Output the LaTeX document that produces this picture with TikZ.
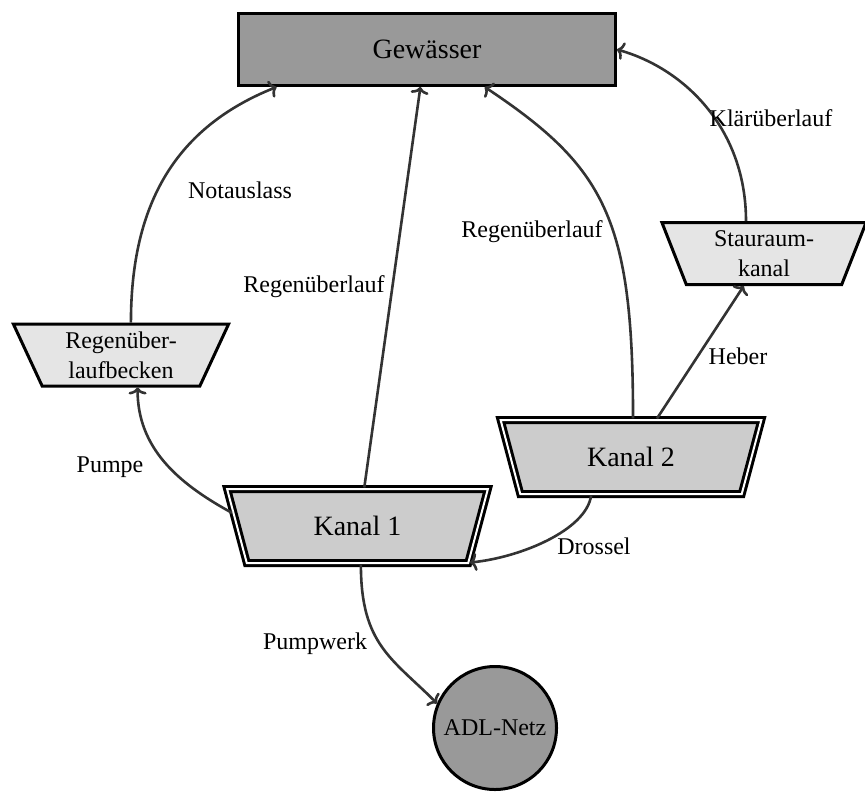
\documentclass[tikz,border=0pt]{standalone}
\usepackage{fontspec}
\setmainfont{Liberation Serif}
\usetikzlibrary{shapes.geometric,arrows.meta}
\begin{document}
\begin{tikzpicture}[x=0.5pt,y=-0.5pt,
  lbl/.style={font=\fontsize{12}{14}\selectfont, inner sep=0pt},
  conn/.style={draw=black!80, line width=1.3pt, -{To[length=3.5pt,width=9pt]}},
  bigbox/.style={trapezium, trapezium stretches=true, shape border rotate=180,
    trapezium angle=71, minimum width=131pt, minimum height=37pt, inner sep=1pt,
    draw=black, double=white, double distance=1pt, line width=1.5pt,
    fill=black!20, font=\fontsize{14}{16}\selectfont},
  smallbox/.style={trapezium, trapezium stretches=true, shape border rotate=180,
    minimum height=31pt, inner sep=1pt, align=center,
    draw=black, line width=1.5pt, fill=black!10, font=\fontsize{12}{15}\selectfont},
  gewbox/.style={rectangle, minimum width=188.5pt, minimum height=36pt, inner sep=0pt,
    draw=black, line width=1.5pt, fill=black!40, font=\fontsize{14}{16}\selectfont},
  netz/.style={circle, minimum size=61.5pt, inner sep=0pt,
    draw=black, line width=1.5pt, fill=black!40, font=\fontsize{12}{14}\selectfont}]
\useasboundingbox (0,0) rectangle (865,792);

\node[gewbox] (gew) at (427,49.5) {Gewässer};
\node[bigbox] (k1) at (357.5,526) {Kanal 1};
\node[bigbox] (k2) at (631,457) {Kanal 2};
\node[smallbox, trapezium angle=67.5, minimum width=108.5pt] (rub) at (121,355) {Regenüber-\\laufbecken};
\node[smallbox, trapezium angle=72, minimum width=102.5pt] (sta) at (764,253.5) {Stauraum-\\kanal};
\node[netz] (adl) at (495,728) {ADL-Netz};

\draw[conn] (k1.174) .. controls +(-55,-30) and +(0,60) .. (rub.-63);
\draw[conn] (rub.73) .. controls +(0,-120) and +(-100,40) .. (gew.194.7);
\draw[conn] (k1.80) -- (gew.-100);
\draw[conn] (k2.87) .. controls +(0,-200) and +(120,80) .. (gew.-33.4);
\draw[conn] (k2.56) -- (sta.238);
\draw[conn] (sta.119) .. controls +(0,-90) and +(70,20) .. (gew.-0.75);
\draw[conn] (k2.224) .. controls +(-5,35) and +(50,-5) .. (k1.-18.6);
\draw[conn] (k1.-85) .. controls +(0,80) and +(-45,-45) .. (adl.157);

\node[lbl] (lpumpe) at (110,467) {Pumpe};
\node[lbl] (lnot) at (240,190) {Notauslass};
\node[lbl] (lrue1) at (314,287) {Regenüberlauf};
\node[lbl] (lrue2) at (532,232) {Regenüberlauf};
\node[lbl] (lklaer) at (771,118) {Klärüberlauf};
\node[lbl] (lheber) at (738,356) {Heber};
\node[lbl] (ldrossel) at (594,546) {Drossel};
\node[lbl] (lpump) at (315,644) {Pumpwerk};
\end{tikzpicture}
\end{document}
